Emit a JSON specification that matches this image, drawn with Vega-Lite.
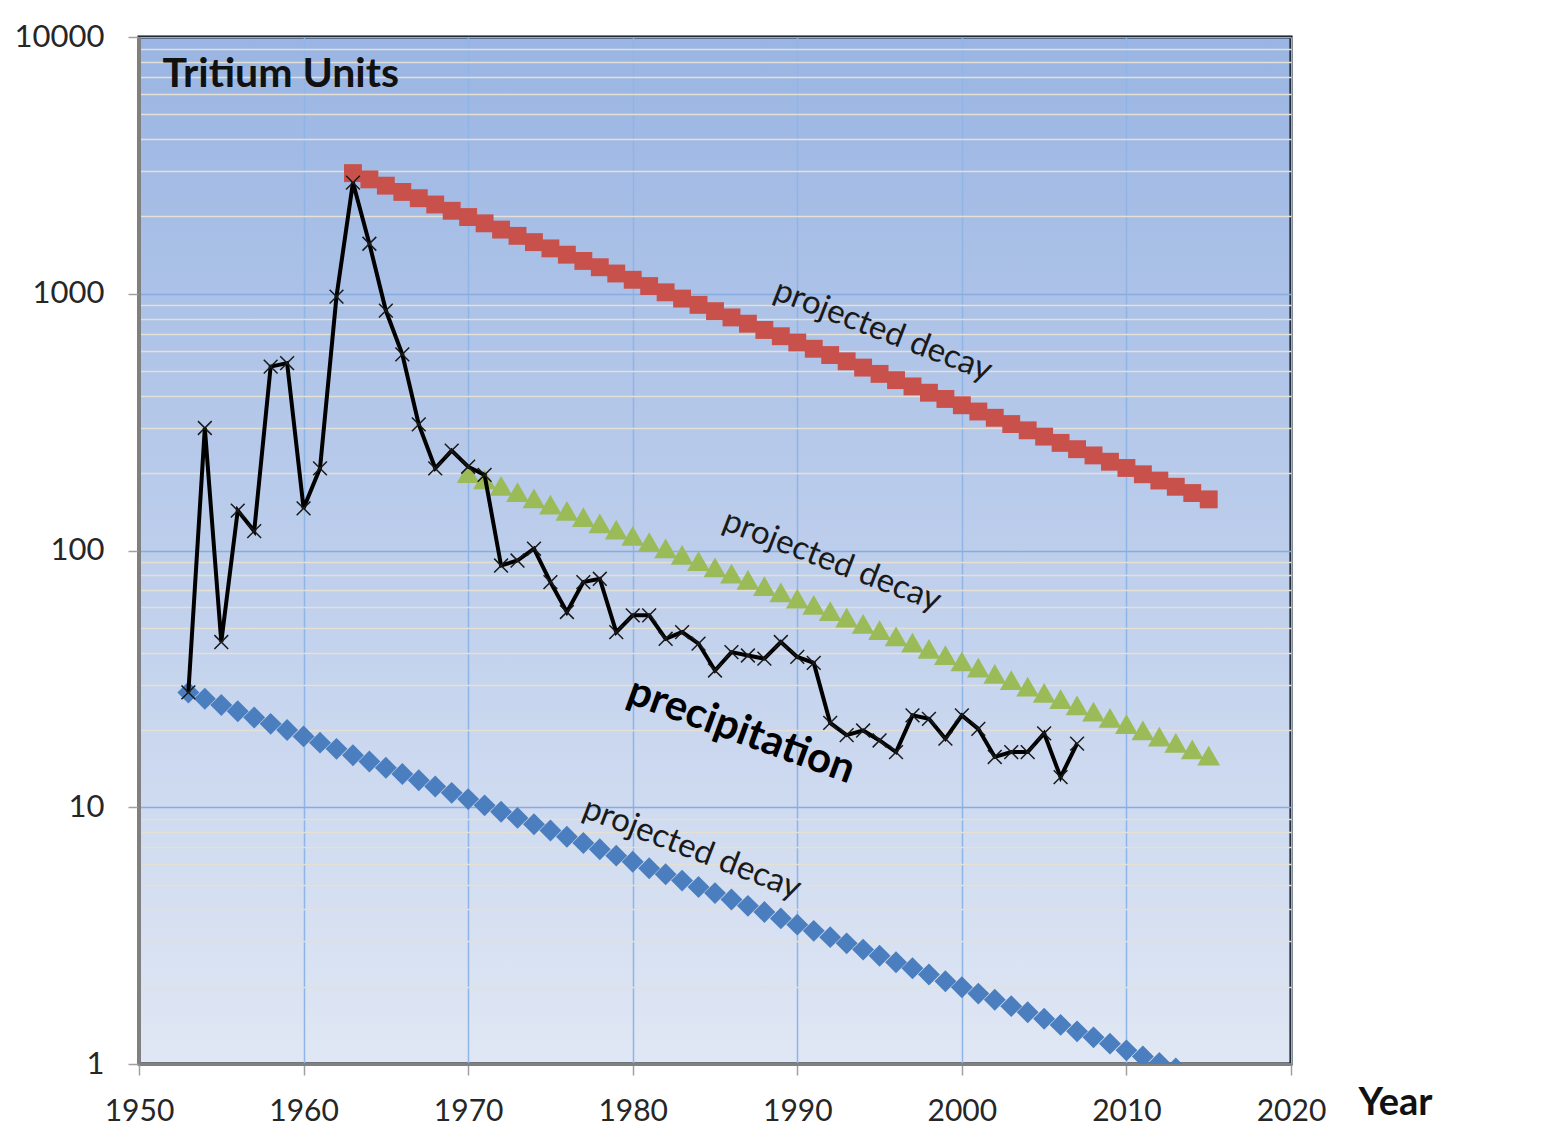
{
  "$schema": "https://vega.github.io/schema/vega-lite/v6.json",
  "width": 1152,
  "height": 1027,
  "autosize": "none",
  "padding": {"left": 139, "top": 37, "right": 251, "bottom": 71},
  "background": "white",
  "config": {
    "view": {
      "stroke": "#000000",
      "strokeWidth": 3,
      "fill": {"gradient": "linear", "x1": 0, "y1": 0, "x2": 0, "y2": 1, "stops": [{"offset": 0, "color": "#9ab5e3"}, {"offset": 1, "color": "#e0e7f4"}]}
    },
    "font": "Lato"
  },
  "datasets": {
    "red": [
      {"year": 1963, "tu": 2950}, {"year": 1964, "tu": 2788.6}, {"year": 1965, "tu": 2636.0}, {"year": 1966, "tu": 2491.8},
      {"year": 1967, "tu": 2355.5}, {"year": 1968, "tu": 2226.6}, {"year": 1969, "tu": 2104.8}, {"year": 1970, "tu": 1989.7},
      {"year": 1971, "tu": 1880.8}, {"year": 1972, "tu": 1777.9}, {"year": 1973, "tu": 1680.6}, {"year": 1974, "tu": 1588.7},
      {"year": 1975, "tu": 1501.8}, {"year": 1976, "tu": 1419.6}, {"year": 1977, "tu": 1342.0}, {"year": 1978, "tu": 1268.5},
      {"year": 1979, "tu": 1199.1}, {"year": 1980, "tu": 1133.5}, {"year": 1981, "tu": 1071.5}, {"year": 1982, "tu": 1012.9},
      {"year": 1983, "tu": 957.5}, {"year": 1984, "tu": 905.1}, {"year": 1985, "tu": 855.6}, {"year": 1986, "tu": 808.8},
      {"year": 1987, "tu": 764.5}, {"year": 1988, "tu": 722.7}, {"year": 1989, "tu": 683.2}, {"year": 1990, "tu": 645.8},
      {"year": 1991, "tu": 610.5}, {"year": 1992, "tu": 577.1}, {"year": 1993, "tu": 545.5}, {"year": 1994, "tu": 515.6},
      {"year": 1995, "tu": 487.4}, {"year": 1996, "tu": 460.8}, {"year": 1997, "tu": 435.6}, {"year": 1998, "tu": 411.7},
      {"year": 1999, "tu": 389.2}, {"year": 2000, "tu": 367.9}, {"year": 2001, "tu": 347.8}, {"year": 2002, "tu": 328.8},
      {"year": 2003, "tu": 310.8}, {"year": 2004, "tu": 293.8}, {"year": 2005, "tu": 277.7}, {"year": 2006, "tu": 262.5},
      {"year": 2007, "tu": 248.1}, {"year": 2008, "tu": 234.6}, {"year": 2009, "tu": 221.7}, {"year": 2010, "tu": 209.6},
      {"year": 2011, "tu": 198.1}, {"year": 2012, "tu": 187.3}, {"year": 2013, "tu": 177.1}, {"year": 2014, "tu": 167.4},
      {"year": 2015, "tu": 158.2}
    ],
    "green": [
      {"year": 1970, "tu": 200}, {"year": 1971, "tu": 189.06}, {"year": 1972, "tu": 178.72}, {"year": 1973, "tu": 168.94},
      {"year": 1974, "tu": 159.70}, {"year": 1975, "tu": 150.96}, {"year": 1976, "tu": 142.70}, {"year": 1977, "tu": 134.89},
      {"year": 1978, "tu": 127.51}, {"year": 1979, "tu": 120.54}, {"year": 1980, "tu": 113.94}, {"year": 1981, "tu": 107.71},
      {"year": 1982, "tu": 101.82}, {"year": 1983, "tu": 96.25}, {"year": 1984, "tu": 90.98}, {"year": 1985, "tu": 86.00},
      {"year": 1986, "tu": 81.30}, {"year": 1987, "tu": 76.85}, {"year": 1988, "tu": 72.65}, {"year": 1989, "tu": 68.67},
      {"year": 1990, "tu": 64.91}, {"year": 1991, "tu": 61.36}, {"year": 1992, "tu": 58.01}, {"year": 1993, "tu": 54.83},
      {"year": 1994, "tu": 51.83}, {"year": 1995, "tu": 49.00}, {"year": 1996, "tu": 46.32}, {"year": 1997, "tu": 43.78},
      {"year": 1998, "tu": 41.39}, {"year": 1999, "tu": 39.12}, {"year": 2000, "tu": 36.98}, {"year": 2001, "tu": 34.96},
      {"year": 2002, "tu": 33.05}, {"year": 2003, "tu": 31.24}, {"year": 2004, "tu": 29.53}, {"year": 2005, "tu": 27.91},
      {"year": 2006, "tu": 26.39}, {"year": 2007, "tu": 24.94}, {"year": 2008, "tu": 23.58}, {"year": 2009, "tu": 22.29},
      {"year": 2010, "tu": 21.07}, {"year": 2011, "tu": 19.92}, {"year": 2012, "tu": 18.83}, {"year": 2013, "tu": 17.80},
      {"year": 2014, "tu": 16.82}, {"year": 2015, "tu": 15.90}
    ],
    "blue": [
      {"year": 1953, "tu": 28}, {"year": 1954, "tu": 26.47}, {"year": 1955, "tu": 25.02}, {"year": 1956, "tu": 23.65},
      {"year": 1957, "tu": 22.36}, {"year": 1958, "tu": 21.13}, {"year": 1959, "tu": 19.98}, {"year": 1960, "tu": 18.88},
      {"year": 1961, "tu": 17.85}, {"year": 1962, "tu": 16.88}, {"year": 1963, "tu": 15.95}, {"year": 1964, "tu": 15.08},
      {"year": 1965, "tu": 14.25}, {"year": 1966, "tu": 13.47}, {"year": 1967, "tu": 12.74}, {"year": 1968, "tu": 12.04},
      {"year": 1969, "tu": 11.38}, {"year": 1970, "tu": 10.76}, {"year": 1971, "tu": 10.17}, {"year": 1972, "tu": 9.61},
      {"year": 1973, "tu": 9.09}, {"year": 1974, "tu": 8.59}, {"year": 1975, "tu": 8.12}, {"year": 1976, "tu": 7.68},
      {"year": 1977, "tu": 7.26}, {"year": 1978, "tu": 6.86}, {"year": 1979, "tu": 6.48}, {"year": 1980, "tu": 6.13},
      {"year": 1981, "tu": 5.79}, {"year": 1982, "tu": 5.48}, {"year": 1983, "tu": 5.18}, {"year": 1984, "tu": 4.89},
      {"year": 1985, "tu": 4.63}, {"year": 1986, "tu": 4.37}, {"year": 1987, "tu": 4.13}, {"year": 1988, "tu": 3.91},
      {"year": 1989, "tu": 3.69}, {"year": 1990, "tu": 3.49}, {"year": 1991, "tu": 3.30}, {"year": 1992, "tu": 3.12},
      {"year": 1993, "tu": 2.95}, {"year": 1994, "tu": 2.79}, {"year": 1995, "tu": 2.64}, {"year": 1996, "tu": 2.49},
      {"year": 1997, "tu": 2.36}, {"year": 1998, "tu": 2.23}, {"year": 1999, "tu": 2.10}, {"year": 2000, "tu": 1.99},
      {"year": 2001, "tu": 1.88}, {"year": 2002, "tu": 1.78}, {"year": 2003, "tu": 1.68}, {"year": 2004, "tu": 1.59},
      {"year": 2005, "tu": 1.50}, {"year": 2006, "tu": 1.42}, {"year": 2007, "tu": 1.34}, {"year": 2008, "tu": 1.27},
      {"year": 2009, "tu": 1.20}, {"year": 2010, "tu": 1.13}, {"year": 2011, "tu": 1.07}, {"year": 2012, "tu": 1.01},
      {"year": 2013, "tu": 0.96}
    ],
    "precip": [
      {"year": 1953, "tu": 28}, {"year": 1954, "tu": 300}, {"year": 1955, "tu": 44}, {"year": 1956, "tu": 143},
      {"year": 1957, "tu": 119}, {"year": 1958, "tu": 520}, {"year": 1959, "tu": 537}, {"year": 1960, "tu": 146},
      {"year": 1961, "tu": 209}, {"year": 1962, "tu": 975}, {"year": 1963, "tu": 2710}, {"year": 1964, "tu": 1566},
      {"year": 1965, "tu": 860}, {"year": 1966, "tu": 581}, {"year": 1967, "tu": 310}, {"year": 1968, "tu": 209},
      {"year": 1969, "tu": 245}, {"year": 1970, "tu": 212}, {"year": 1971, "tu": 197}, {"year": 1972, "tu": 87.4},
      {"year": 1973, "tu": 91.4}, {"year": 1974, "tu": 101.6}, {"year": 1975, "tu": 75.3}, {"year": 1976, "tu": 57.6},
      {"year": 1977, "tu": 75.3}, {"year": 1978, "tu": 77.6}, {"year": 1979, "tu": 48.1}, {"year": 1980, "tu": 55.9},
      {"year": 1981, "tu": 55.9}, {"year": 1982, "tu": 45.3}, {"year": 1983, "tu": 48.1}, {"year": 1984, "tu": 43.4},
      {"year": 1985, "tu": 34.1}, {"year": 1986, "tu": 40.2}, {"year": 1987, "tu": 39.0}, {"year": 1988, "tu": 37.9},
      {"year": 1989, "tu": 44.0}, {"year": 1990, "tu": 38.5}, {"year": 1991, "tu": 36.5}, {"year": 1992, "tu": 21.3},
      {"year": 1993, "tu": 19.1}, {"year": 1994, "tu": 19.9}, {"year": 1995, "tu": 18.2}, {"year": 1996, "tu": 16.4},
      {"year": 1997, "tu": 22.8}, {"year": 1998, "tu": 22.1}, {"year": 1999, "tu": 18.5}, {"year": 2000, "tu": 22.8},
      {"year": 2001, "tu": 20.2}, {"year": 2002, "tu": 15.7}, {"year": 2003, "tu": 16.4}, {"year": 2004, "tu": 16.4},
      {"year": 2005, "tu": 19.4}, {"year": 2006, "tu": 13.1}, {"year": 2007, "tu": 17.7}
    ],
    "labels": [
      {"year": 1995.2, "tu": 718, "text": "projected decay", "kind": "decay"},
      {"year": 1992.1, "tu": 91, "text": "projected decay", "kind": "decay"},
      {"year": 1983.6, "tu": 6.9, "text": "projected decay", "kind": "decay"},
      {"year": 1986.6, "tu": 19.9, "text": "precipitation", "kind": "main"}
    ]
  },
  "encoding": {
    "x": {
      "field": "year", "type": "quantitative",
      "scale": {"domain": [1950, 2020], "nice": false, "zero": false},
      "axis": {
        "values": [1950, 1960, 1970, 1980, 1990, 2000, 2010, 2020],
        "format": "d",
        "grid": true, "gridColor": "#8fb5e6", "gridWidth": 1.5,
        "domainColor": "#808080", "domainWidth": 3,
        "tickColor": "#a0a0a0", "tickSize": 11, "tickWidth": 1.5,
        "labelFont": "Lato", "labelFontSize": 30, "labelColor": "#262626", "labelPadding": 21,
        "labelFlush": false, "labelBound": false, "labelOverlap": false,
        "title": "Year", "titleFont": "Lato", "titleFontSize": 38, "titleFontWeight": "bold", "titleColor": "#111111",
        "titleX": 1256, "titleY": 39, "titleAlign": "center", "titleBaseline": "middle", "titleAngle": 0
      }
    },
    "y": {
      "field": "tu", "type": "quantitative",
      "scale": {"type": "log", "domain": [1, 10000], "nice": false},
      "axis": {
        "values": [1, 2, 3, 4, 5, 6, 7, 8, 9, 10, 20, 30, 40, 50, 60, 70, 80, 90, 100, 200, 300, 400, 500, 600, 700, 800, 900, 1000, 2000, 3000, 4000, 5000, 6000, 7000, 8000, 9000, 10000],
        "format": "d",
        "labelExpr": "indexof([1,10,100,1000,10000], datum.value) >= 0 ? datum.label : ''",
        "grid": true,
        "gridColor": {"condition": {"test": "indexof([1,10,100,1000,10000], datum.value) >= 0", "value": "#86ace0"}, "value": "#e4e0d4"},
        "gridWidth": 1.5,
        "tickOpacity": {"condition": {"test": "indexof([1,10,100,1000,10000], datum.value) >= 0", "value": 1}, "value": 0},
        "domainColor": "#808080", "domainWidth": 3,
        "tickColor": "#a0a0a0", "tickSize": 11, "tickWidth": 1.5,
        "labelFont": "Lato", "labelFontSize": 31, "labelColor": "#262626", "labelPadding": 24,
        "labelBound": false, "labelOverlap": false, "labelFlush": false,
        "title": "Tritium Units", "titleFont": "Lato", "titleFontSize": 41, "titleFontWeight": "bold", "titleColor": "#111111",
        "titleAngle": 0, "titleX": 23, "titleY": 37, "titleAlign": "left", "titleBaseline": "middle"
      }
    }
  },
  "layer": [
    {
      "data": {"name": "red"},
      "mark": {"type": "point", "shape": "square", "filled": true, "size": 320, "color": "#c9514c", "opacity": 1, "clip": true}
    },
    {
      "data": {"name": "green"},
      "mark": {"type": "point", "shape": "triangle-up", "filled": true, "size": 520, "color": "#9bbb59", "opacity": 1, "clip": true}
    },
    {
      "data": {"name": "blue"},
      "mark": {"type": "point", "shape": "diamond", "filled": true, "size": 480, "color": "#4a7ebf", "opacity": 1, "clip": true}
    },
    {
      "data": {"name": "precip"},
      "mark": {"type": "line", "color": "#000000", "strokeWidth": 4, "clip": true}
    },
    {
      "data": {"name": "precip"},
      "mark": {"type": "point", "shape": "M-1,-1L1,1M-1,1L1,-1", "filled": false, "stroke": "#1a1a1a", "strokeWidth": 1.5, "size": 190, "opacity": 1, "clip": true}
    },
    {
      "data": {"name": "labels"},
      "transform": [{"filter": "datum.kind == 'decay'"}],
      "mark": {"type": "text", "font": "Lato", "fontSize": 33, "angle": 21, "align": "center", "baseline": "middle", "color": "#1a1a1a"},
      "encoding": {"text": {"field": "text"}}
    },
    {
      "data": {"name": "labels"},
      "transform": [{"filter": "datum.kind == 'main'"}],
      "mark": {"type": "text", "font": "Lato", "fontSize": 42, "fontWeight": "bold", "angle": 20, "align": "center", "baseline": "middle", "color": "#000000"},
      "encoding": {"text": {"field": "text"}}
    }
  ]
}
